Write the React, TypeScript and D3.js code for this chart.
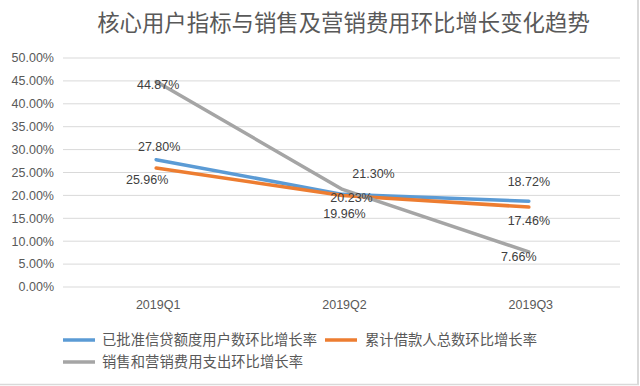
import React from "react";
import * as d3 from "d3";

// chart data
const quarters = ["2019Q1", "2019Q2", "2019Q3"];
const approvedUsers = [27.8, 20.23, 18.72];
const borrowers = [25.96, 19.96, 17.46];
const salesExpense = [44.87, 21.3, 7.66];
const seriesNames = [
  "已批准信贷额度用户数环比增长率",
  "累计借款人总数环比增长率",
  "销售和营销费用支出环比增长率",
];
const yTicks = [0, 5, 10, 15, 20, 25, 30, 35, 40, 45, 50];

const colors = ["#5B9BD5", "#ED7D31", "#A5A5A5"];
// label nudges (px) relative to each point, per series
const labelNudge = [
  [[3, -13], [9, 3], [0, -20]],
  [[-9, 12], [2, 18], [0, 14]],
  [[2, 3], [31, -16], [-10, 5]],
];

const W = 640;
const H = 386;
const margin = { top: 58, right: 18, bottom: 99, left: 63 };
const numFont = "'Liberation Sans', Arial, sans-serif";
const cjkFont = "'Noto Sans CJK SC', 'Noto Sans', sans-serif";

export default function App() {
  const series = [approvedUsers, borrowers, salesExpense];

  const x = d3
    .scalePoint()
    .domain(quarters)
    .range([margin.left, W - margin.right])
    .padding(0.5);
  const y = d3
    .scaleLinear()
    .domain([0, 50])
    .range([H - margin.bottom, margin.top]);

  const line = d3
    .line<number>()
    .x((_, i) => x(quarters[i]) as number)
    .y((d) => y(d));

  return (
    <svg
      width={W}
      height={H}
      style={{ position: "absolute", left: 0, top: 0, background: "#fff" }}
    >
      {/* chart frame */}
      <line x1={638} x2={638} y1={0} y2={385} stroke="#d9d9d9" strokeWidth={2} />
      <line x1={0} x2={639} y1={384.5} y2={384.5} stroke="#d9d9d9" strokeWidth={1.5} />

      <text
        x={343.5}
        y={31}
        textAnchor="middle"
        fontFamily={cjkFont}
        fontSize={22.4}
        fill="#595959"
      >
        核心用户指标与销售及营销费用环比增长变化趋势
      </text>

      {yTicks.map((t) => (
        <g key={t}>
          <line
            x1={margin.left}
            x2={W - margin.right - 2}
            y1={y(t)}
            y2={y(t)}
            stroke="#d9d9d9"
            strokeWidth={1}
          />
          <text
            x={54}
            y={y(t)}
            dy="0.35em"
            textAnchor="end"
            fontFamily={numFont}
            fontSize={12.5}
            fill="#595959"
          >
            {t.toFixed(2) + "%"}
          </text>
        </g>
      ))}

      {quarters.map((q) => (
        <text
          key={q}
          x={(x(q) as number) + 2}
          y={305}
          dy="0.35em"
          textAnchor="middle"
          fontFamily={numFont}
          fontSize={12.5}
          fill="#595959"
        >
          {q}
        </text>
      ))}

      {series.map((s, si) => (
        <path
          key={si}
          d={line(s) || ""}
          fill="none"
          stroke={colors[si]}
          strokeWidth={3.5}
          strokeLinecap="round"
          strokeLinejoin="round"
        />
      ))}

      {series.map((s, si) =>
        s.map((v, i) => (
          <text
            key={si + "-" + i}
            x={(x(quarters[i]) as number) + labelNudge[si][i][0]}
            y={y(v) + labelNudge[si][i][1]}
            dy="0.35em"
            textAnchor="middle"
            fontFamily={numFont}
            fontSize={12.5}
            fill="#404040"
          >
            {v.toFixed(2) + "%"}
          </text>
        ))
      )}

      {/* legend */}
      {[
        { x0: 63, y0: 340, tx: 102, w: 215 },
        { x0: 325, y0: 340, tx: 365, w: 172 },
        { x0: 63, y0: 362, tx: 102, w: 201 },
      ].map((p, si) => (
        <g key={si}>
          <line
            x1={p.x0}
            x2={p.x0 + 32}
            y1={p.y0}
            y2={p.y0}
            stroke={colors[si]}
            strokeWidth={3.5}
          />
          <text
            x={p.tx}
            y={p.y0}
            dy="0.36em"
            fontFamily={cjkFont}
            fontSize={14.3}
            fill="#595959"
            textLength={p.w}
            lengthAdjust="spacing"
          >
            {seriesNames[si]}
          </text>
        </g>
      ))}
    </svg>
  );
}
